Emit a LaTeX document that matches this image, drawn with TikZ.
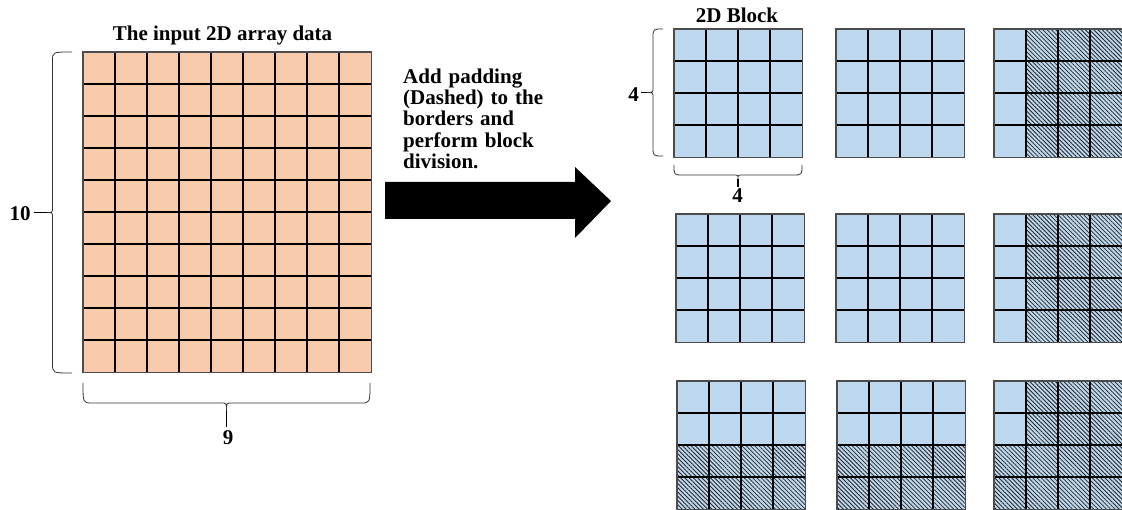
\documentclass[tikz,border=0pt]{standalone}
\usepackage{fontspec}
\setmainfont{Liberation Serif}
\usetikzlibrary{patterns.meta,calc}
\definecolor{cellorange}{HTML}{F8CBAD}
\definecolor{cellblue}{HTML}{BDD7EE}
\tikzset{
  lbl/.style={font=\bfseries\fontsize{21}{21.3}\selectfont, inner sep=0pt},
  arraybox/.style={fill=cellorange, draw=none, inner sep=0pt, anchor=north west,
                   minimum width=288pt, minimum height=320pt},
  blockbox/.style={fill=cellblue, draw=none, inner sep=0pt, anchor=north west,
                   minimum width=128pt, minimum height=128pt},
  gridline/.style={line width=1.1pt, black},
  frame/.style={line width=1.1pt, black!70},
  hatch/.style={pattern={Lines[angle=-45,distance=3pt,line width=0.8pt]}, pattern color=black!85},
  bracepath/.style={line width=0.8pt, black!80},
  stub/.style={line width=1.8pt, black},
}
% a 4x4 block with its cell lines and frame
\newcommand\blockgrid[1]{%
  \foreach \k in {1,2,3} {
    \draw[gridline] ($(#1.north west)+(\k*32,0)$) -- ($(#1.south west)+(\k*32,0)$);
    \draw[gridline] ($(#1.north west)+(0,\k*32)$) -- ($(#1.north east)+(0,\k*32)$);
  }
  \draw[frame] (#1.north west) rectangle (#1.south east);}
% vertical brace opening right: spine x, arm x, top y, bottom y, tip x
\newcommand\vbrace[5]{%
  \draw[bracepath] (#2,#3) .. controls (#1,#3) .. (#1,#3+9)
    -- (#1,{(#3+#4)/2-5}) .. controls (#1,{(#3+#4)/2}) .. (#5,{(#3+#4)/2})
    .. controls (#1,{(#3+#4)/2}) .. (#1,{(#3+#4)/2+5})
    -- (#1,#4-9) .. controls (#1,#4) .. (#2,#4);}
% horizontal brace opening up: spine y, arm y, left x, right x, tip y
\newcommand\hbrace[5]{%
  \draw[bracepath] (#3,#2) .. controls (#3,#1) .. (#3+9,#1)
    -- ({(#3+#4)/2-5},#1) .. controls ({(#3+#4)/2},#1) .. ({(#3+#4)/2},#5)
    .. controls ({(#3+#4)/2},#1) .. ({(#3+#4)/2+5},#1)
    -- (#4-9,#1) .. controls (#4,#1) .. (#4,#2);}

\begin{document}
\begin{tikzpicture}[x=1pt,y=-1pt]
\useasboundingbox (0,0) rectangle (1122,510);

% ---- input array: 9 columns x 10 rows ----
\node[arraybox] (arr) at (83,52) {};
\foreach \k in {1,...,8}
  \draw[gridline] ($(arr.north west)+(\k*32,0)$) -- ($(arr.south west)+(\k*32,0)$);
\foreach \k in {1,...,9}
  \draw[gridline] ($(arr.north west)+(0,\k*32)$) -- ($(arr.north east)+(0,\k*32)$);
\draw[frame] (arr.north west) rectangle (arr.south east);

\node[lbl, anchor=base] (title) at (222.5,41) {The input 2D array data};

% left brace (rows)
\vbrace{52.5}{72}{52}{373}{47}
\coordinate (t10) at (47,212.5);
\node[lbl, anchor=base] (n10) at (20,221) {10};
\draw[stub, shorten <=3pt] (n10.east |- t10) -- (t10);

% bottom brace (columns)
\hbrace{403}{383}{83}{370}{411}
\coordinate (t9) at (226.5,411);
\node[lbl, anchor=base] (n9) at (228,445) {9};
\draw[stub, shorten <=4pt] (n9.north -| t9) -- (t9);

% ---- block arrow with caption ----
\fill (385,182) -- (575,182) -- (575,167) -- (611,201) -- (575,238)
      -- (575,219) -- (385,219) -- cycle;
\node[lbl, anchor=base west, text width=240pt, align=left] (note) at (403,83.3)
  {Add padding\\(Dashed) to the\\borders and\\perform block\\division.};

% ---- padded blocks ----
\node[blockbox] (b11) at (674,29) {};
\node[blockbox] (b12) at (836,29) {};
\node[blockbox] (b13) at (994,29) {};
\node[blockbox] (b21) at (676,214) {};
\node[blockbox] (b22) at (836,214) {};
\node[blockbox] (b23) at (994,214) {};
\node[blockbox] (b31) at (677,381) {};
\node[blockbox] (b32) at (837,381) {};
\node[blockbox] (b33) at (994,381) {};

% padding cells
\path[hatch] ($(b13.north west)+(32,0)$) rectangle (b13.south east);
\path[hatch] ($(b23.north west)+(32,0)$) rectangle (b23.south east);
\path[hatch] ($(b31.north west)+(0,64)$) rectangle (b31.south east);
\path[hatch] ($(b32.north west)+(0,64)$) rectangle (b32.south east);
\path[hatch] ($(b33.north west)+(32,0)$) rectangle (b33.south east);
\path[hatch] ($(b33.north west)+(0,64)$) rectangle ($(b33.south west)+(32,0)$);

\foreach \b in {b11,b12,b13,b21,b22,b23,b31,b32,b33} {\blockgrid{\b}}

\node[lbl, anchor=base] (blk) at (737,22.7) {2D Block};

% block braces
\vbrace{653}{663}{29}{156}{647}
\coordinate (t4a) at (647,92.5);
\node[lbl, anchor=base] (n4a) at (633.5,102) {4};
\draw[stub, shorten <=2pt] (n4a.east |- t4a) -- (t4a);

\hbrace{175}{165}{674}{802}{179}
\coordinate (t4b) at (738,179);
\node[lbl, anchor=base] (n4b) at (737.5,203) {4};
\draw[stub, shorten <=2pt] (n4b.north -| t4b) -- (t4b);
\end{tikzpicture}
\end{document}
